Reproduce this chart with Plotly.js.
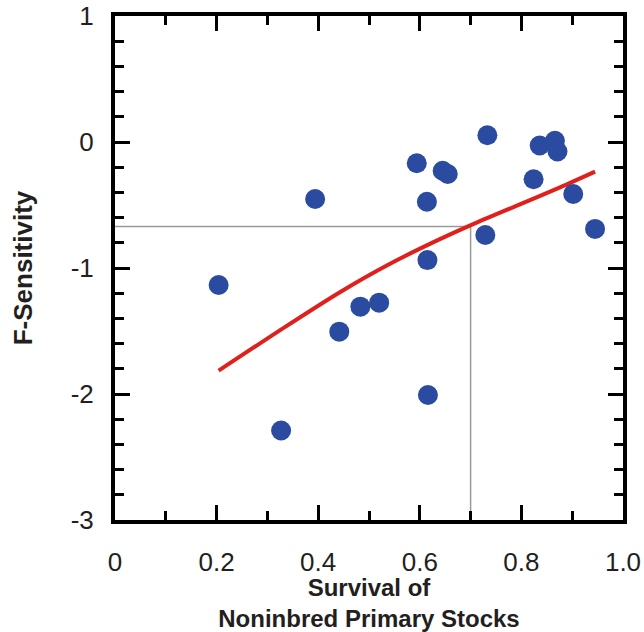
<!DOCTYPE html>
<html>
<head>
<meta charset="utf-8">
<script src="https://cdn.plot.ly/plotly-3.0.1.min.js"></script>
<style>html,body{margin:0;padding:0;background:#fff;}#chart{width:644px;height:632px;}</style>
</head>
<body>
<div id="chart"></div>
<script>
// Observed stocks: survival of noninbred primary stocks vs F-sensitivity
const survival = [0.204, 0.327, 0.394, 0.4415, 0.483, 0.520, 0.594, 0.614, 0.615, 0.616, 0.645, 0.655, 0.729, 0.733, 0.824, 0.836, 0.866, 0.871, 0.902, 0.945];
const fSensitivity = [-1.135, -2.29, -0.452, -1.505, -1.307, -1.275, -0.169, -0.474, -0.937, -2.008, -0.228, -0.254, -0.738, 0.054, -0.296, -0.028, 0.010, -0.075, -0.413, -0.690];

// Fitted curve
const fitX = [0.204, 0.332, 0.4435, 0.535, 0.627, 0.7005, 0.791, 0.876, 0.945];
const fitY = [-1.815, -1.475, -1.19, -0.98, -0.795, -0.66, -0.505, -0.36, -0.235];

// Reference lines at survival 0.7
const refX = [0, 0.7, 0.7];
const refY = [-0.67, -0.67, -3];

const xTickVals = [0, 0.2, 0.4, 0.6, 0.8, 1.0];
const xTickText = ['0', '0.2', '0.4', '0.6', '0.8', '1.0'];
const yTickVals = [-3, -2, -1, 0, 1];
const yTickText = ['-3', '-2', '-1', '0', '1'];

const textColor = '#231f20';
const fontFamily = 'Liberation Sans, Arial, Helvetica, sans-serif';

const traces = [
  {x: refX, y: refY, mode: 'lines', line: {color: '#9a9a9a', width: 1.5}, hoverinfo: 'skip'},
  {x: fitX, y: fitY, mode: 'lines', line: {color: '#e0201c', width: 4, shape: 'spline', smoothing: 0.8}},
  {x: survival, y: fSensitivity, mode: 'markers', marker: {color: '#2b4ba0', size: 20}}
];

const axisCommon = {
  showline: true, linewidth: 4, linecolor: '#000', mirror: 'allticks',
  ticks: 'inside', ticklen: 15, tickwidth: 3, tickcolor: '#000',
  showgrid: false, zeroline: false,
  tickfont: {family: fontFamily, size: 26, color: textColor}
};

const layout = {
  width: 644, height: 632,
  margin: {l: 115, r: 21, t: 16, b: 112, pad: 0},
  paper_bgcolor: '#fff', plot_bgcolor: '#fff',
  showlegend: false,
  xaxis: Object.assign({}, axisCommon, {
    range: [0, 1.0],
    tickmode: 'array', tickvals: xTickVals, ticktext: xTickText,
    minor: {dtick: 0.1, tick0: 0, ticks: 'inside', ticklen: 9, tickwidth: 3, tickcolor: '#000', showgrid: false},
    ticklabelstandoff: 16,
    title: {text: 'Survival of<br>Noninbred Primary Stocks', font: {family: fontFamily, size: 24, color: textColor, weight: 'bold'}, standoff: 5}
  }),
  yaxis: Object.assign({}, axisCommon, {
    range: [-3, 1],
    tickmode: 'array', tickvals: yTickVals, ticktext: yTickText,
    minor: {dtick: 0.2, tick0: 0, ticks: 'inside', ticklen: 9, tickwidth: 3, tickcolor: '#000', showgrid: false},
    ticklabelstandoff: 12,
    title: {text: 'F-Sensitivity', font: {family: fontFamily, size: 26, color: textColor, weight: 'bold'}, standoff: 32}
  })
};

Plotly.newPlot('chart', traces, layout, {displayModeBar: false, staticPlot: true});
</script>
</body>
</html>
